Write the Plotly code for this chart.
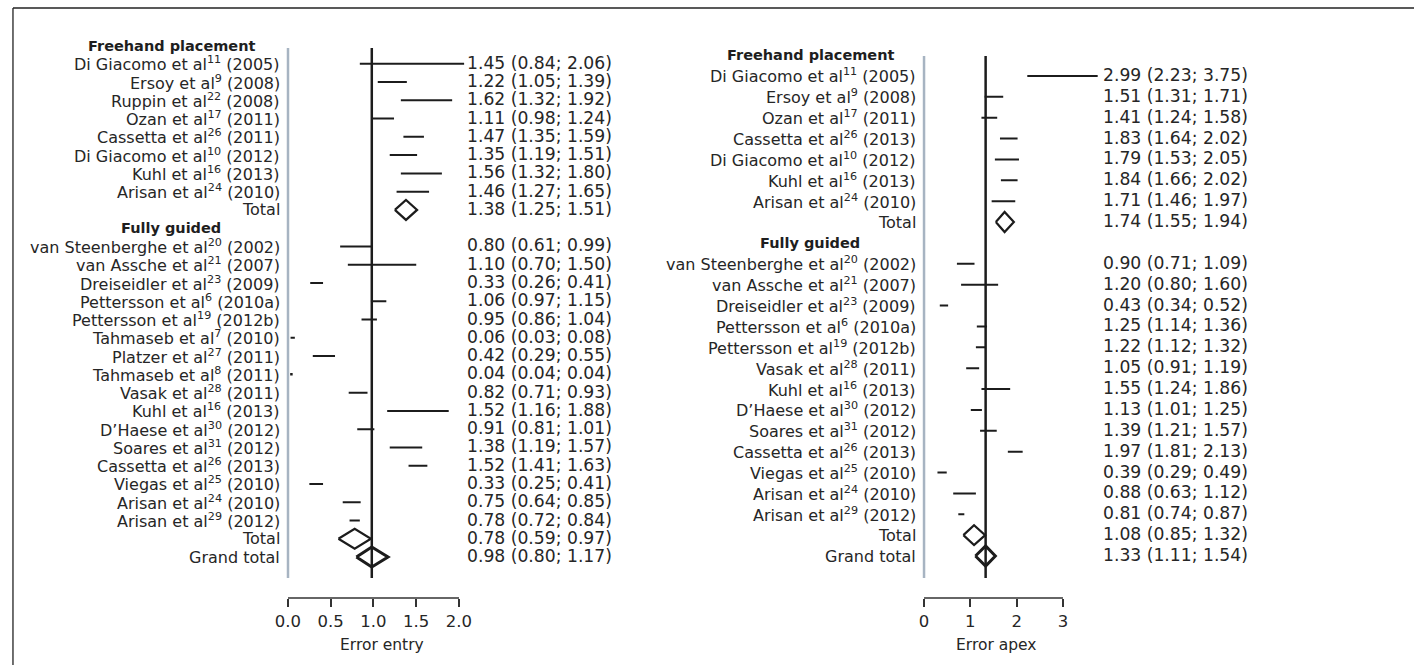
import plotly.graph_objects as go

W, H = 1414, 665
FONT = "DejaVu Sans"
TXT = "#262626"
INK = "#1c1c1c"
GRAY = "#a7b4c2"

# ---------------- data: Error entry ----------------
entry_fh_authors = ["Di Giacomo et al", "Ersoy et al", "Ruppin et al", "Ozan et al",
                    "Cassetta et al", "Di Giacomo et al", "Kuhl et al", "Arisan et al"]
entry_fh_refs = ["11", "9", "22", "17", "26", "10", "16", "24"]
entry_fh_years = ["2005", "2008", "2008", "2011", "2011", "2012", "2013", "2010"]
entry_fh_est = [1.45, 1.22, 1.62, 1.11, 1.47, 1.35, 1.56, 1.46]
entry_fh_lo = [0.84, 1.05, 1.32, 0.98, 1.35, 1.19, 1.32, 1.27]
entry_fh_hi = [2.06, 1.39, 1.92, 1.24, 1.59, 1.51, 1.80, 1.65]
entry_fh_total = [1.38, 1.25, 1.51]

entry_fg_authors = ["van Steenberghe et al", "van Assche et al", "Dreiseidler et al",
                    "Pettersson et al", "Pettersson et al", "Tahmaseb et al", "Platzer et al",
                    "Tahmaseb et al", "Vasak et al", "Kuhl et al", "D\u2019Haese et al",
                    "Soares et al", "Cassetta et al", "Viegas et al", "Arisan et al", "Arisan et al"]
entry_fg_refs = ["20", "21", "23", "6", "19", "7", "27", "8", "28", "16", "30", "31", "26", "25", "24", "29"]
entry_fg_years = ["2002", "2007", "2009", "2010a", "2012b", "2010", "2011", "2011", "2011",
                  "2013", "2012", "2012", "2013", "2010", "2010", "2012"]
entry_fg_est = [0.80, 1.10, 0.33, 1.06, 0.95, 0.06, 0.42, 0.04, 0.82, 1.52, 0.91, 1.38, 1.52, 0.33, 0.75, 0.78]
entry_fg_lo = [0.61, 0.70, 0.26, 0.97, 0.86, 0.03, 0.29, 0.04, 0.71, 1.16, 0.81, 1.19, 1.41, 0.25, 0.64, 0.72]
entry_fg_hi = [0.99, 1.50, 0.41, 1.15, 1.04, 0.08, 0.55, 0.04, 0.93, 1.88, 1.01, 1.57, 1.63, 0.41, 0.85, 0.84]
entry_fg_total = [0.78, 0.59, 0.97]
entry_grand_total = [0.98, 0.80, 1.17]
entry_ticks = [0.0, 0.5, 1.0, 1.5, 2.0]
entry_ticktext = ["0.0", "0.5", "1.0", "1.5", "2.0"]

# ---------------- data: Error apex ----------------
apex_fh_authors = ["Di Giacomo et al", "Ersoy et al", "Ozan et al", "Cassetta et al",
                   "Di Giacomo et al", "Kuhl et al", "Arisan et al"]
apex_fh_refs = ["11", "9", "17", "26", "10", "16", "24"]
apex_fh_years = ["2005", "2008", "2011", "2013", "2012", "2013", "2010"]
apex_fh_est = [2.99, 1.51, 1.41, 1.83, 1.79, 1.84, 1.71]
apex_fh_lo = [2.23, 1.31, 1.24, 1.64, 1.53, 1.66, 1.46]
apex_fh_hi = [3.75, 1.71, 1.58, 2.02, 2.05, 2.02, 1.97]
apex_fh_total = [1.74, 1.55, 1.94]

apex_fg_authors = ["van Steenberghe et al", "van Assche et al", "Dreiseidler et al",
                   "Pettersson et al", "Pettersson et al", "Vasak et al", "Kuhl et al",
                   "D\u2019Haese et al", "Soares et al", "Cassetta et al", "Viegas et al",
                   "Arisan et al", "Arisan et al"]
apex_fg_refs = ["20", "21", "23", "6", "19", "28", "16", "30", "31", "26", "25", "24", "29"]
apex_fg_years = ["2002", "2007", "2009", "2010a", "2012b", "2011", "2013", "2012", "2012",
                 "2013", "2010", "2010", "2012"]
apex_fg_est = [0.90, 1.20, 0.43, 1.25, 1.22, 1.05, 1.55, 1.13, 1.39, 1.97, 0.39, 0.88, 0.81]
apex_fg_lo = [0.71, 0.80, 0.34, 1.14, 1.12, 0.91, 1.24, 1.01, 1.21, 1.81, 0.29, 0.63, 0.74]
apex_fg_hi = [1.09, 1.60, 0.52, 1.36, 1.32, 1.19, 1.86, 1.25, 1.57, 2.13, 0.49, 1.12, 0.87]
apex_fg_total = [1.08, 0.85, 1.32]
apex_grand_total = [1.33, 1.11, 1.54]
apex_ticks = [0, 1, 2, 3]
apex_ticktext = ["0", "1", "2", "3"]

group_headers = ["Freehand placement", "Fully guided"]


def build_rows(fh, fg, fh_tot, fg_tot, grand):
    rows = [dict(kind="header", label=group_headers[0])]
    for a, r, y, e, lo, hi in zip(*fh):
        rows.append(dict(kind="study", label=f"{a}<sup>{r}</sup> ({y})", est=e, lo=lo, hi=hi))
    rows.append(dict(kind="total", label="Total", est=fh_tot[0], lo=fh_tot[1], hi=fh_tot[2]))
    rows.append(dict(kind="header", label=group_headers[1]))
    for a, r, y, e, lo, hi in zip(*fg):
        rows.append(dict(kind="study", label=f"{a}<sup>{r}</sup> ({y})", est=e, lo=lo, hi=hi))
    rows.append(dict(kind="total", label="Total", est=fg_tot[0], lo=fg_tot[1], hi=fg_tot[2]))
    rows.append(dict(kind="grand", label="Grand total", est=grand[0], lo=grand[1], hi=grand[2]))
    return rows


panels = [
    dict(rows=build_rows(
        (entry_fh_authors, entry_fh_refs, entry_fh_years, entry_fh_est, entry_fh_lo, entry_fh_hi),
        (entry_fg_authors, entry_fg_refs, entry_fg_years, entry_fg_est, entry_fg_lo, entry_fg_hi),
        entry_fh_total, entry_fg_total, entry_grand_total),
        xa="x", ya="y", xkey="xaxis", ykey="yaxis",
        x0px=284.0, upx=85.8, xrange=[-0.1, 2.2],
        row0px=45.5, steppx=18.27, label_right=278, header_cx=167, value_left=462,
        title="Error entry", title_cx=378.6, line_top=48, line_bot=578,
        ticks=entry_ticks, ticktext=entry_ticktext),
    dict(rows=build_rows(
        (apex_fh_authors, apex_fh_refs, apex_fh_years, apex_fh_est, apex_fh_lo, apex_fh_hi),
        (apex_fg_authors, apex_fg_refs, apex_fg_years, apex_fg_est, apex_fg_lo, apex_fg_hi),
        apex_fh_total, apex_fg_total, apex_grand_total),
        xa="x2", ya="y2", xkey="xaxis2", ykey="yaxis2",
        x0px=922.3, upx=46.47, xrange=[-0.2, 3.85],
        row0px=55.0, steppx=20.875, label_right=916, header_cx=808, value_left=1100,
        title="Error apex", title_cx=994.5, line_top=56, line_bot=578,
        ticks=apex_ticks, ticktext=apex_ticktext),
]

AXIS_PX = 598.0
TOP_PX = 30.0

fig = go.Figure()
annotations = []
shapes = []
layout = {}

for p in panels:
    rows = p["rows"]
    to_row = lambda px, p=p: (px - p["row0px"]) / p["steppx"]
    half = 10.0 / p["steppx"]

    xd0 = (p["x0px"] + p["xrange"][0] * p["upx"]) / W
    xd1 = (p["x0px"] + p["xrange"][1] * p["upx"]) / W
    layout[p["xkey"]] = dict(
        domain=[xd0, xd1], range=p["xrange"], anchor=p["ya"],
        showgrid=False, zeroline=False, showline=False,
        tickmode="array", tickvals=p["ticks"], ticktext=p["ticktext"],
        ticks="outside", ticklen=8, tickwidth=1.5, tickcolor="#333",
        tickfont=dict(family=FONT, size=16.5, color=TXT), fixedrange=True)
    layout[p["ykey"]] = dict(
        domain=[1 - AXIS_PX / H, 1 - TOP_PX / H],
        range=[to_row(AXIS_PX), to_row(TOP_PX)], anchor=p["xa"],
        visible=False, fixedrange=True)

    # CI lines
    xs, ys = [], []
    px_, py_ = [], []
    for i, r in enumerate(rows):
        if r["kind"] == "study":
            xs += [r["lo"], r["hi"], None]
            ys += [i, i, None]
            if r["hi"] == r["lo"]:
                px_.append(r["est"])
                py_.append(i)
    fig.add_trace(go.Scatter(x=xs, y=ys, xaxis=p["xa"], yaxis=p["ya"], mode="lines",
                             line=dict(color=INK, width=2), hoverinfo="skip", showlegend=False))
    if px_:
        fig.add_trace(go.Scatter(x=px_, y=py_, xaxis=p["xa"], yaxis=p["ya"], mode="markers",
                                 marker=dict(color=INK, size=2.5, symbol="square"),
                                 hoverinfo="skip", showlegend=False))

    # diamonds
    for i, r in enumerate(rows):
        if r["kind"] in ("total", "grand"):
            fig.add_trace(go.Scatter(
                x=[r["lo"], r["est"], r["hi"], r["est"], r["lo"]],
                y=[i, i - half, i, i + half, i],
                xaxis=p["xa"], yaxis=p["ya"], mode="lines",
                line=dict(color=INK, width=3 if r["kind"] == "grand" else 2.2),
                hoverinfo="skip", showlegend=False))

    grand = rows[-1]
    shapes.append(dict(type="line", xref=p["xa"], yref=p["ya"], x0=0, x1=0,
                       y0=to_row(p["line_top"]), y1=to_row(p["line_bot"]),
                       line=dict(color=GRAY, width=2.5), layer="below"))
    shapes.append(dict(type="line", xref=p["xa"], yref=p["ya"], x0=grand["est"], x1=grand["est"],
                       y0=to_row(p["line_top"]), y1=to_row(p["line_bot"]),
                       line=dict(color=INK, width=2.5), layer="below"))
    shapes.append(dict(type="line", xref=p["xa"], yref="paper",
                       x0=min(p["ticks"]), x1=max(p["ticks"]),
                       y0=1 - AXIS_PX / H, y1=1 - AXIS_PX / H,
                       line=dict(color="#333", width=1.5)))

    for i, r in enumerate(rows):
        if r["kind"] == "header":
            annotations.append(dict(text=f"<b>{r['label']}</b>", xref="paper", yref=p["ya"],
                                    x=p["header_cx"] / W, y=i, xanchor="center", yanchor="middle",
                                    showarrow=False, font=dict(family=FONT, size=14.5, color="#1e1e1e")))
        else:
            annotations.append(dict(text=r["label"], xref="paper", yref=p["ya"],
                                    x=p["label_right"] / W, y=i, xanchor="right", yanchor="middle",
                                    showarrow=False, font=dict(family=FONT, size=16, color=TXT)))
            annotations.append(dict(text=f"{r['est']:.2f} ({r['lo']:.2f}; {r['hi']:.2f})",
                                    xref="paper", yref=p["ya"], x=p["value_left"] / W, y=i,
                                    xanchor="left", yanchor="middle", yshift=1,
                                    showarrow=False, font=dict(family=FONT, size=17.2, color=TXT)))
    annotations.append(dict(text=p["title"], xref="paper", yref="paper",
                            x=p["title_cx"] / W, y=1 - 645 / H, xanchor="center", yanchor="middle",
                            showarrow=False, font=dict(family=FONT, size=15.5, color=TXT)))

# outer frame (top and left edges)
shapes.append(dict(type="line", xref="paper", yref="paper", x0=8 / W, x1=1, y0=1 - 8 / H, y1=1 - 8 / H,
                   line=dict(color="#222", width=1.3)))
shapes.append(dict(type="line", xref="paper", yref="paper", x0=8 / W, x1=8 / W, y0=0, y1=1 - 8 / H,
                   line=dict(color="#222", width=1.3)))

fig.update_layout(
    width=W, height=H, margin=dict(l=0, r=0, t=0, b=0),
    paper_bgcolor="white", plot_bgcolor="white",
    font=dict(family=FONT, size=16, color=TXT),
    showlegend=False, annotations=annotations, shapes=shapes, **layout)

fig.write_html("out.html", config={"displayModeBar": False})
